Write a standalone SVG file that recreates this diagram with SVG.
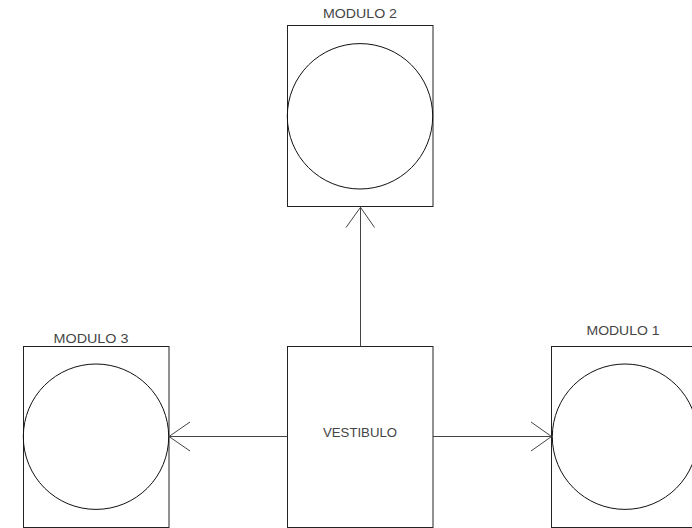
<svg xmlns="http://www.w3.org/2000/svg" width="692" height="528" viewBox="0 0 692 528">
<style>
.box{fill:none;stroke:#222;stroke-width:1}
.circ{fill:none;stroke:#111;stroke-width:1}
.lbl{font-family:"Liberation Sans",Arial,sans-serif;font-size:12px;fill:#444;text-anchor:middle}
.con{fill:none;stroke:#444;stroke-width:1}
</style>
<rect width="692" height="528" fill="#fff"/>
<g id="modulo2">
<rect class="box" x="287.5" y="25.5" width="145.5" height="181"/>
<circle class="circ" cx="360" cy="116.3" r="72.7"/>
<text class="lbl" x="360" y="17.5" textLength="74" lengthAdjust="spacingAndGlyphs">MODULO 2</text>
</g>
<g id="modulo3">
<rect class="box" x="23.5" y="346.5" width="145.5" height="181"/>
<circle class="circ" cx="96" cy="436.7" r="72.7"/>
<text class="lbl" x="91" y="342.5" textLength="75" lengthAdjust="spacingAndGlyphs">MODULO 3</text>
</g>
<g id="vestibulo">
<rect class="box" x="287.5" y="346.5" width="145.5" height="181"/>
<text class="lbl" x="360" y="436.5" font-size="13" textLength="74" lengthAdjust="spacingAndGlyphs" style="font-size:13px">VESTIBULO</text>
</g>
<g id="modulo1">
<rect class="box" x="551.5" y="346.5" width="145.5" height="181"/>
<circle class="circ" cx="625" cy="436.7" r="72.7"/>
<text class="lbl" x="623" y="335" textLength="73" lengthAdjust="spacingAndGlyphs">MODULO 1</text>
</g>
<g id="connectors">
<path class="con" d="M360.5 346.5V207.3M346 227.5L360.5 207.3L374.5 227.5"/>
<path class="con" d="M287.5 436.5H169M190 422L169 436.5L190 451"/>
<path class="con" d="M433 436.5H551.5M531 422L551.5 436.5L531 451"/>
</g>
</svg>
